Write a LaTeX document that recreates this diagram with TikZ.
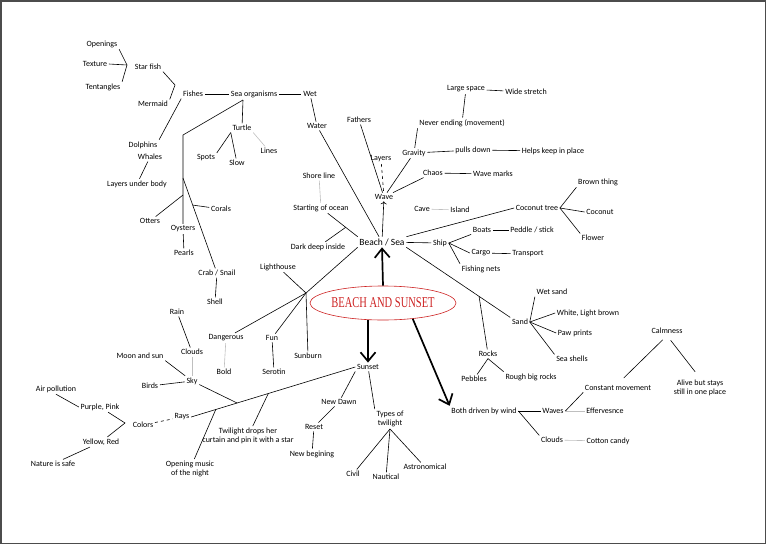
\documentclass[tikz,border=0pt]{standalone}
\usepackage{fontspec}
\setmainfont{Carlito}
\newfontfamily\titlefont{Liberation Serif}
\usepackage{graphicx}
\usepackage{xcolor}
\usepackage{tikz}
\usetikzlibrary{arrows.meta,shapes.geometric}
\definecolor{titlered}{RGB}{205,35,35}

\begin{document}
\begin{tikzpicture}[x=1pt,y=-1pt,line width=0.6pt,
every node/.style={inner sep=1.5pt,font=\fontsize{8}{9.5}\selectfont,align=center},
faint/.style={draw=gray!50},
gap/.style={shorten <=6pt,shorten >=8pt},
bigarrow/.style={-{Straight Barb[length=9pt,width=15pt]},line width=1.7pt}]
\useasboundingbox(0,0)rectangle(766,544);
\draw[gray!60!black,line width=1.5pt](0.75,0.75)rectangle(765.25,543.25);
\node[ellipse,draw=titlered,text=titlered,minimum width=136pt,minimum height=34pt,inner sep=0pt](title)at(383,303){\titlefont\fontsize{15}{15}\selectfont\scalebox{.7}[1]{BEACH AND SUNSET}};
\node[font=\fontsize{9.5}{11}\selectfont](beach)at(382,242){Beach / Sea};
\node(sunset)at(368,367){Sunset};
\node(wind)at(484,411){Both driven by wind};
\draw[bigarrow](title.north)--(beach.south);
\draw[bigarrow](title.south -| sunset.north)--(sunset.north);
\draw[bigarrow](title.-28)--(wind.north west);
% sea life
\node(opn)at(102,44){Openings};
\node(tex)at(95,64){Texture};
\node(ten)at(103,87){Tentangles};
\node(star)at(148,67){Star fish};
\node(merm)at(153,104){Mermaid};
\node(fish)at(193,94){Fishes};
\node(seaorg)at(254,94){Sea organisms};
\node(wet)at(310,94){Wet};
\node(water)at(317,126){Water};
\node(turt)at(242,128){Turtle};
\node(spots)at(206,158){Spots};
\node(slow)at(237,163){Slow};
\node(lines)at(269,151){Lines};
\node(dolph)at(143,145){Dolphins};
\node(whal)at(150,157){Whales};
\node(lub)at(137,184){Layers under body};
\node(otter)at(150,221){Otters};
\node(oyst)at(183,229){Oysters};
\node(pearl)at(184,253){Pearls};
\node(coral)at(221,209){Corals};
\node(crab)at(217,273){Crab / Snail};
\node(shell)at(215,302){Shell};
\coordinate(jstar)at(127,65);
\coordinate(jfish)at(175,85);
\coordinate(jorg)at(243,100);
\coordinate(jsea)at(183,135);
\coordinate(jcrab)at(183,178);
\coordinate(jott)at(183,195);
\foreach \a in {opn.south east,tex.east,ten.north east}\draw(\a)--(jstar);
\draw(star.south east)--(jfish)--(merm.north east);
\draw(fish.south west)--(dolph.north east);
\draw(fish)--(seaorg)--(wet);
\draw(wet)--(water);
\draw(jorg)--(turt);
\draw(jorg)--(jsea)--(oyst);
\draw(jott)--(otter);
\draw(jcrab)--coordinate[pos=.3](jcor)(crab);
\draw(jcor)--(coral);
\draw(oyst)--(pearl);
\draw(crab)--(shell);
\draw(whal)--(lub);
\draw(turt.south west)--(spots.north east);
\draw(turt.south west)--(slow);
\draw[faint](turt.south east)--(lines);
% beach and sea
\node(wave)at(384,197){Wave};
\node(fath)at(359,120){Fathers};
\node(layers)at(381,159){Layers};
\node(grav)at(414,153){Gravity};
\node(never)at(462,123){Never ending (movement)};
\node(large)at(466,89){Large space};
\node(wide)at(526,92){Wide stretch};
\node(pulls)at(473,150){pulls down};
\node(helps)at(553,151){Helps keep in place};
\node(chaos)at(433,173){Chaos};
\node(marks)at(493,174){Wave marks};
\node(cave)at(422,209){Cave};
\node(island)at(460,210){Island};
\node(coco)at(537,208){Coconut tree};
\node(brown)at(598,182){Brown thing};
\node(nut)at(600,212){Coconut};
\node(flower)at(593,238){Flower};
\node(ship)at(440,243){Ship};
\node(boats)at(482,230){Boats};
\node(peddle)at(532,230){Peddle / stick};
\node(cargo)at(481,253){Cargo};
\node(trans)at(528,254){Transport};
\node(nets)at(481,269){Fishing nets};
\node(shore)at(319,176){Shore line};
\node(start)at(321,208){Starting of ocean};
\node(dark)at(318,247){Dark deep inside};
\node(sand)at(520,322){Sand};
\node(wsand)at(552,292){Wet sand};
\node(white)at(588,313){White, Light brown};
\node(paw)at(575,333){Paw prints};
\node(shells)at(572,359){Sea shells};
\node(rocks)at(488,354){Rocks};
\node(pebb)at(474,379){Pebbles};
\node(rough)at(531,377){Rough big rocks};
\draw[->](beach)--(wave);
\draw(water)--(beach);
\draw(fath)--(wave);
\draw[dashed](layers)--(wave);
\draw(grav)--(wave);
\draw(chaos)--(wave);
\draw(grav)--(never.south west);
\draw(never)--(large)--(wide);
\draw(grav)--(pulls)--(helps);
\draw(chaos)--(marks);
\draw[faint](cave)--(island);
\draw(beach.north east)--(coco.west);
\foreach \t in {brown.south west,nut.west,flower.north west}\draw(coco.east)--(\t);
\draw(beach)--(ship);
\foreach \t in {boats.south west,cargo.west,nets.north west}\draw(ship.east)--(\t);
\draw(boats)--(peddle);
\draw(cargo)--(trans);
\draw[faint](shore)--(start);
\draw(start)--coordinate[pos=.6](jdeep)(beach.north west);
\draw(dark)--(jdeep);
\draw(beach.south east)--coordinate[pos=.7](jrock)(sand.north west);
\draw(jrock)--(rocks);
\draw(rocks.south)--(pebb);
\draw(rocks.south)--(rough.north west);
\foreach \t in {wsand.south west,white.west,paw.west,shells.north west}\draw(sand.east)--(\t);
% lighthouse
\coordinate(hub)at(306,293);
\node(light)at(278,267){Lighthouse};
\node(dang)at(226,338){Dangerous};
\node(fun)at(272,338){Fun};
\node(sunb)at(308,356){Sunburn};
\node(bold)at(224,372){Bold};
\node(serot)at(274,372){Serotin};
\draw(beach.south west)--(hub)--(dang);
\foreach \t in {light,fun,sunb}\draw(hub)--(\t);
\draw[faint](dang)--(bold);
\draw(fun)--(serot);
% sky and sunset
\node(rain)at(177,312){Rain};
\node(cloud)at(192,352){Clouds};
\node(moon)at(140,356){Moon and sun};
\node(sky)at(192,381){Sky};
\node(birds)at(150,386){Birds};
\node(rays)at(182,417){Rays};
\node(colors)at(143,425){Colors};
\node(purp)at(100,407){Purple, Pink};
\node(yell)at(101,442){Yellow, Red};
\node(air)at(56,389){Air pollution};
\node(nature)at(53,464){Nature is safe};
\node(music)at(190,469){Opening music\\of the night};
\node(twil)at(248,436){Twilight drops her\\curtain and pin it with a star};
\node(dawn)at(339,402){New Dawn};
\node(reset)at(314,427){Reset};
\node(newb)at(312,454){New begining};
\node(types)at(390,419){Types of\\twilight};
\node(civil)at(353,474){Civil};
\node(naut)at(386,477){Nautical};
\node(astro)at(425,467){Astronomical};
\coordinate(jcol)at(125,423);
\draw(rain)--(cloud);
\draw[faint](cloud)--(sky);
\draw(moon.south east)--(sky);
\draw(birds)--(sky);
\draw(sunset.west)--coordinate[pos=.53](jtw)coordinate[pos=.72](jsky)coordinate[pos=.85](jmus)(rays.east);
\draw(sky)--(jsky);
\draw(jtw)--(twil);
\draw(jmus)--(music);
\draw[dashed](colors)--(rays);
\draw(purp)--(jcol)--(yell);
\draw(air.south)--(purp.west);
\draw(yell)--(nature);
\draw(sunset.south west)--(dawn);
\draw(dawn)--(reset)--(newb);
\draw(sunset)--(types.north west);
\foreach \t in {civil,naut,astro}\draw(types.south)--(\t);
% wind
\node(waves)at(553,411){Waves};
\node(clouds2)at(552,440){Clouds};
\node(const)at(618,388){Constant movement};
\node(eff)at(605,411){Effervesnce};
\node(cotton)at(608,441){Cotton candy};
\node(calm)at(667,331){Calmness};
\node(alive)at(700,388){Alive but stays\\still in one place};
\draw(wind)--(waves);
\draw(wind.east)--(clouds2.north west);
\draw(waves.east)--(const.south west);
\draw[faint](waves)--(eff);
\draw[faint](clouds2)--(cotton);
\foreach \t in {const.north,alive.north}\draw[gap](calm.south)--(\t);
\end{tikzpicture}
\end{document}
